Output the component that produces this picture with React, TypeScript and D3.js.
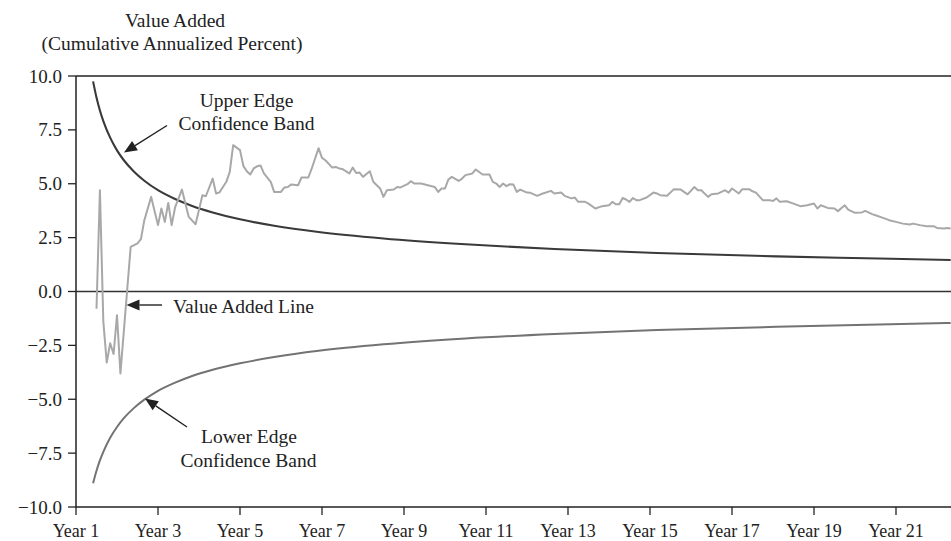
import React from "react";
import * as d3 from "d3";

// Value-added line, sampled by month since inception (Year 1 starts at month 0)
const valueMonths = [
  6, 7, 8, 9, 10, 11, 12, 13, 16, 18, 19, 20, 22, 24, 25, 26, 27, 28, 29, 31, 33, 35, 37, 38, 40, 41,
  42, 43, 44, 45, 46, 48, 49, 50, 51, 52, 53, 54, 55, 57, 58, 60, 61, 62, 63, 65, 66, 68, 69, 71, 72,
  73, 75, 76, 77, 78, 80, 81, 82, 83, 84, 86, 87, 89, 90, 91, 93, 94, 95, 97, 98, 99, 101, 103, 105,
  106, 107, 108, 109, 110, 112, 113, 114, 116, 117, 119, 121, 122, 123, 124, 125, 126, 127, 128, 129,
  130, 132, 133, 135, 136, 139, 140, 142, 143, 145, 146, 147, 149, 150, 152, 154, 156, 157, 158, 159,
  160, 161, 162, 163, 164, 165, 167, 169, 170, 171, 173, 175, 177, 179, 181, 182, 183, 185, 186, 188,
  190, 191, 192, 194, 195, 197, 198, 199, 201, 203, 204, 205, 206, 208, 210, 212, 214, 216, 217, 218,
  220, 222, 223, 225, 226, 228, 230, 231, 233, 234, 236, 238, 240, 242, 244, 245, 247, 249, 251, 252,
  254, 255, 256,
];
const valueAdded = [
  -0.8, 4.7, -1.4, -3.3, -2.4, -2.9, -1.1, -3.8, 2.07, 2.23, 2.43, 3.31, 4.39, 3.08, 3.85, 3.23, 4.11,
  3.08, 3.9, 4.73, 3.46, 3.12, 4.47, 4.42, 5.24, 4.55, 4.6, 4.85, 5.09, 5.55, 6.79, 6.56, 5.82, 5.58,
  5.43, 5.71, 5.81, 5.85, 5.48, 5.09, 4.62, 4.62, 4.83, 4.85, 4.97, 4.93, 5.29, 5.29, 5.71, 6.65, 6.2,
  6.09, 5.75, 5.78, 5.71, 5.68, 5.48, 5.75, 5.5, 5.52, 5.32, 5.58, 5.09, 4.78, 4.39, 4.7, 4.73, 4.85,
  4.83, 4.98, 5.12, 5.01, 5.01, 4.93, 4.85, 4.62, 4.78, 4.78, 5.2, 5.32, 5.13, 5.24, 5.4, 5.48, 5.66,
  5.43, 5.43, 5.09, 5.01, 4.85, 5.01, 4.89, 4.98, 4.97, 4.62, 4.73, 4.59, 4.58, 4.44, 4.51, 4.67, 4.55,
  4.59, 4.44, 4.32, 4.36, 4.16, 4.16, 4.08, 3.85, 3.96, 4.0, 4.16, 4.05, 4.05, 4.34, 4.27, 4.16, 4.34,
  4.24, 4.24, 4.36, 4.59, 4.55, 4.47, 4.44, 4.75, 4.73, 4.51, 4.85, 4.7, 4.7, 4.39, 4.51, 4.55, 4.7,
  4.59, 4.78, 4.55, 4.75, 4.75, 4.65, 4.59, 4.24, 4.24, 4.2, 4.32, 4.16, 4.19, 4.08, 3.96, 4.0, 4.08,
  3.85, 4.0, 3.88, 3.85, 3.73, 4.0, 3.8, 3.65, 3.67, 3.74, 3.59, 3.54, 3.43, 3.31, 3.23, 3.15, 3.11,
  3.15, 3.08, 3.03, 3.03, 2.95, 2.92, 2.95, 2.92,
];

// Confidence band edges, sampled at the same months
const bandMonths = [5, 6, 7, 8, 10, 12, 14, 17, 20, 24, 29, 34, 40, 48, 58, 71, 90, 114, 140, 170, 205, 235, 256];
const upperBand = [
  9.75, 9.0, 8.4, 7.91, 7.14, 6.55, 6.09, 5.56, 5.14, 4.7, 4.29, 3.97, 3.67, 3.35, 3.05, 2.76, 2.46,
  2.19, 1.97, 1.79, 1.63, 1.53, 1.46,
];
const lowerBand = [
  -8.9, -8.32, -7.84, -7.44, -6.79, -6.29, -5.88, -5.4, -5.02, -4.61, -4.23, -3.92, -3.63, -3.33,
  -3.04, -2.75, -2.45, -2.18, -1.97, -1.79, -1.64, -1.53, -1.46,
];

// Axis ticks
const yTicks = [-10, -7.5, -5, -2.5, 0, 2.5, 5, 7.5, 10];
const xTickYears = [1, 3, 5, 7, 9, 11, 13, 15, 17, 19, 21];

const W = 951;
const H = 541;
const left = 76;
const top = 76;
const bottom = 507;
const FONT = "'Liberation Serif', 'DejaVu Serif', 'Times New Roman', serif";
const INK = "#222";

const x = d3.scaleLinear().domain([0, 256]).range([left, left + 256 * (41 / 12)]);
const y = d3.scaleLinear().domain([-10, 10]).range([bottom, top]);
const fmt = d3.format(".1f");

type Pt = [number, number];
const zip = (a: number[], b: number[]): Pt[] => a.map((m, i) => [m, b[i]] as Pt);

const straight = d3.line<Pt>().x((d) => x(d[0])).y((d) => y(d[1]));
const smooth = d3.line<Pt>().x((d) => x(d[0])).y((d) => y(d[1])).curve(d3.curveMonotoneX);

function Arrow({ x1, y1, x2, y2 }: { x1: number; y1: number; x2: number; y2: number }) {
  // shaft from (x1,y1) to a filled head whose tip is at (x2,y2)
  const ang = Math.atan2(y2 - y1, x2 - x1);
  const len = 13;
  const half = 5.5;
  const bx = x2 - len * Math.cos(ang);
  const by = y2 - len * Math.sin(ang);
  const px = -Math.sin(ang) * half;
  const py = Math.cos(ang) * half;
  return (
    <g>
      <line x1={x1} y1={y1} x2={bx} y2={by} stroke={INK} strokeWidth={1.4} />
      <polygon points={`${x2},${y2} ${bx + px},${by + py} ${bx - px},${by - py}`} fill={INK} />
    </g>
  );
}

export default function App() {
  return (
    <svg
      width={W}
      height={H}
      viewBox={`0 0 ${W} ${H}`}
      style={{ position: "absolute", left: 0, top: 0, background: "#fff" }}
      fontFamily={FONT}
    >
      <defs>
        <clipPath id="plot">
          <rect x={left} y={top - 4} width={W - left} height={bottom - top + 8} />
        </clipPath>
      </defs>

      {/* title */}
      <text x={175} y={27} textAnchor="middle" fontSize={19.5} fill={INK}>
        Value Added
      </text>
      <text x={172} y={50} textAnchor="middle" fontSize={19.5} fill={INK}>
        (Cumulative Annualized Percent)
      </text>

      {/* frame: top rule, left axis, bottom axis, zero line */}
      <line x1={left} x2={W} y1={y(10)} y2={y(10)} stroke={INK} strokeWidth={1.5} />
      <line x1={left} x2={W} y1={y(-10)} y2={y(-10)} stroke={INK} strokeWidth={1.5} />
      <line x1={left} x2={left} y1={y(10)} y2={y(-10)} stroke={INK} strokeWidth={1.5} />
      <line x1={left} x2={W} y1={y(0)} y2={y(0)} stroke="#333" strokeWidth={1.4} />

      {/* y ticks */}
      {yTicks.map((t) => (
        <g key={t}>
          <line x1={left - 8} x2={left} y1={y(t)} y2={y(t)} stroke={INK} strokeWidth={1.3} />
          <text x={62} y={y(t) + 6.5} textAnchor="end" fontSize={19} fill={INK}>
            {fmt(t)}
          </text>
        </g>
      ))}

      {/* x ticks */}
      {xTickYears.map((yr) => {
        const xv = x((yr - 1) * 12);
        return (
          <g key={yr}>
            <line x1={xv} x2={xv} y1={bottom} y2={bottom + 8} stroke={INK} strokeWidth={1.3} />
            <text x={xv} y={537} textAnchor="middle" fontSize={18} fill={INK}>
              {`Year ${yr}`}
            </text>
          </g>
        );
      })}

      <g clipPath="url(#plot)" fill="none" strokeLinejoin="round">
        <path d={smooth(zip(bandMonths, lowerBand)) ?? ""} stroke="#737373" strokeWidth={2} />
        <path d={smooth(zip(bandMonths, upperBand)) ?? ""} stroke="#3a3a3a" strokeWidth={2.1} />
        <path d={straight(zip(valueMonths, valueAdded)) ?? ""} stroke="#a8a8a8" strokeWidth={2} />
      </g>

      {/* annotations */}
      <text x={246.5} y={107} textAnchor="middle" fontSize={19.5} fill={INK}>
        Upper Edge
      </text>
      <text x={246.5} y={130} textAnchor="middle" fontSize={19.5} fill={INK}>
        Confidence Band
      </text>
      <Arrow x1={167} y1={125.5} x2={124} y2={152.5} />

      <text x={173} y={313} fontSize={19.5} fill={INK}>
        Value Added Line
      </text>
      <Arrow x1={162} y1={305} x2={126.5} y2={305} />

      <text x={249} y={443} textAnchor="middle" fontSize={19.5} fill={INK}>
        Lower Edge
      </text>
      <text x={248.5} y={466.5} textAnchor="middle" fontSize={19.5} fill={INK}>
        Confidence Band
      </text>
      <Arrow x1={187} y1={427} x2={145} y2={398.5} />
    </svg>
  );
}
